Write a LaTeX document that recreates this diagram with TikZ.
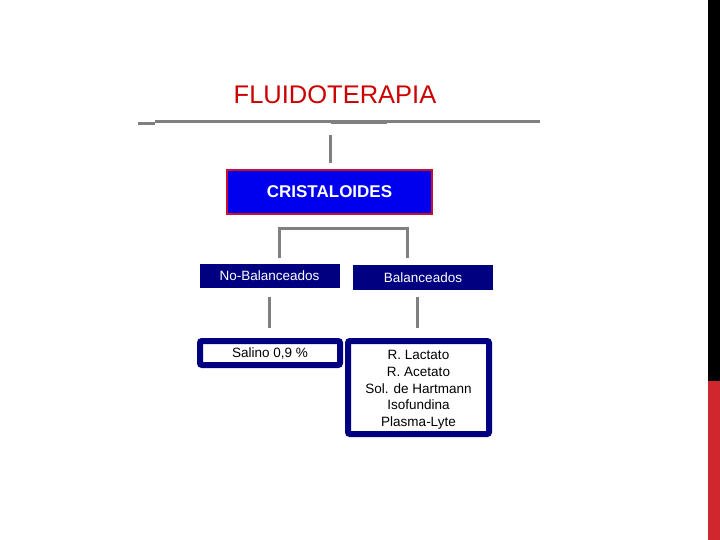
\documentclass[tikz,border=0pt]{standalone}
\usepackage{fontspec}
\setmainfont{Liberation Sans}
\definecolor{titlered}{RGB}{204,0,0}
\definecolor{boxblue}{RGB}{0,0,238}
\definecolor{boxrim}{RGB}{200,16,46}
\definecolor{navy}{RGB}{0,0,128}
\definecolor{linegray}{RGB}{128,128,128}
\definecolor{barred}{RGB}{208,38,46}
\begin{document}
\begin{tikzpicture}[x=1pt, y=-1pt]
    \tikzset{
        mainbox/.style={rectangle, draw=boxrim, line width=2pt, fill=boxblue, text=white, inner sep=0pt, minimum width=205pt, minimum height=44pt, font=\fontsize{17}{20}\selectfont\bfseries},
        typebox/.style={rectangle, fill=navy, text=white, inner sep=0pt, minimum width=140pt, minimum height=24.5pt, font=\fontsize{13.5}{16}\selectfont},
        listbox/.style={rectangle, rounded corners=2pt, draw=navy, line width=6pt, fill=white, inner sep=0pt, align=center, minimum width=140pt, font=\fontsize{13.5}{16.7}\selectfont},
        conn/.style={draw=linegray, line width=3pt}
    }
    \useasboundingbox (0,0) rectangle (720,540);
    % side bar
    \fill[black]  (708,0) rectangle (720,381);
    \fill[barred] (708,381) rectangle (720,540);
    % title and rule
    \node[text=titlered, font=\fontsize{25.5}{30}\selectfont] (title) at (335,95) {FLUIDOTERAPIA};
    \coordinate (ruleL) at (155,122);
    \coordinate (ruleR) at (540,122);
    \draw[conn] (ruleL) -- (ruleR);
    \draw[conn] (138,124) -- (155,124);
    \draw[draw=linegray, line width=4pt] (331,122.5) -- (387,122.5);
    % boxes
    \node[mainbox] (cris) at (329.5,192) {CRISTALOIDES};
    \node[typebox] (nobal) at (269.5,276) {No-Balanceados};
    \node[typebox] (bal) at (423,277.5) {Balanceados};
    \node[listbox, minimum height=24pt] (salino) at (270,353) {Salino 0,9 \%};
    \node[listbox, minimum height=93pt, minimum width=141pt, text depth=1pt] (lista) at (418.5,387.5) {\rule{0pt}{12pt}R. Lactato\\R. Acetato\\Sol. de Hartmann\\Isofundina\\Plasma-Lyte};
    % connectors
    \coordinate (top1) at (330,135);
    \coordinate (top2) at (330,163);
    \draw[conn] (top1) -- (top2);
    \coordinate (brL) at (279,258);
    \coordinate (brR) at (407,258);
    \draw[conn] (brL) |- (343,229) -| (brR);
    \coordinate (lowL1) at (269,297);
    \coordinate (lowL2) at (269,328);
    \coordinate (lowR1) at (417,297);
    \coordinate (lowR2) at (417,328);
    \draw[conn] (lowL1) -- (lowL2);
    \draw[conn] (lowR1) -- (lowR2);
\end{tikzpicture}
\end{document}
